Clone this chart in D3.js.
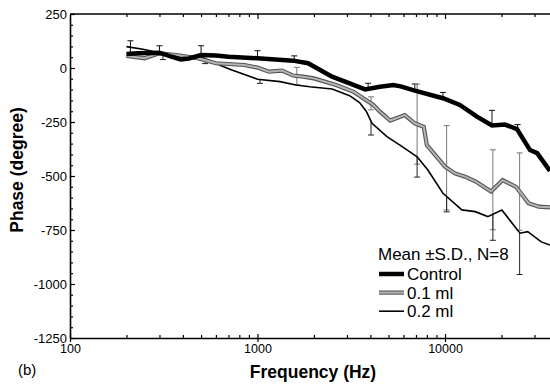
<!DOCTYPE html>
<html>
<head>
<meta charset="utf-8">
<script src="https://cdn.jsdelivr.net/npm/d3@7"></script>
<style>
  body { margin: 0; background: #fff; }
  svg { display: block; }
  text { font-family: "Liberation Sans", Arial, sans-serif; fill: #000; }
</style>
</head>
<body>
<div id="chart"></div>
<script>
// phase data (Hz, degree)
const controlFreq = [200, 230, 300, 350, 390, 430, 500, 600, 700, 1000, 1550, 1860, 2500, 3100, 3750, 4500, 5300, 5800, 6900, 9750, 12000, 14800, 17800, 20900, 24200, 28400, 31000, 36300];
const controlPhase = [65, 68, 71, 52, 40, 44, 60, 58, 52, 45, 34, 22, -40, -71, -99, -87, -79, -85, -105, -140, -171, -225, -266, -262, -283, -380, -394, -476];

const dose1Freq = [200, 250, 300, 370, 480, 600, 850, 1000, 1150, 1350, 1550, 1750, 2000, 2650, 3250, 4150, 4500, 5100, 6100, 6900, 7700, 8000, 10000, 11300, 12800, 14600, 17600, 20300, 23900, 27900, 31600, 36300];
const dose1Phase = [56, 45, 68, 60, 45, 22, 14, 2, -17, -12, -35, -40, -48, -80, -110, -171, -202, -243, -218, -256, -272, -357, -457, -488, -503, -526, -572, -519, -550, -626, -642, -645];

const dose2Freq = [200, 245, 300, 420, 500, 560, 650, 730, 1000, 1320, 1600, 1900, 2500, 3100, 3500, 3800, 4080, 4900, 5750, 7100, 8100, 9750, 12300, 14500, 16900, 20100, 25100, 27600, 32600, 36300];
const dose2Phase = [99, 87, 71, 55, 52, 32, 8, -9, -52, -63, -79, -87, -97, -128, -160, -200, -256, -318, -357, -411, -472, -580, -657, -665, -688, -657, -765, -758, -805, -820];

// S.D. bars: control drawn upward, 0.1 ml both ways, 0.2 ml downward
const controlErrFreq = [210, 300, 500, 1000, 1570, 3890, 6900, 9750, 17800, 24400];
const controlErrSD = [60, 32, 43, 35, 23, 26, 31, 27, 70, 26];
const dose1ErrFreq = [1620, 4030, 7100, 10200, 18000, 25000];
const dose1ErrSD = [40, 30, 185, 195, 185, 179];
const dose2ErrFreq = [313, 525, 1030, 4030, 7100, 10200, 18000, 25000];
const dose2ErrSD = [30, 23, 18, 64, 94, 71, 121, 193];

const yTicks = [250, 0, -250, -500, -750, -1000, -1250];
const xTicks = [100, 1000, 10000];
const legendLabels = ['Control', '0.1 ml', '0.2 ml'];

const width = 550, height = 385;
const svg = d3.select('#chart').append('svg')
  .attr('width', width)
  .attr('height', height);

const x = d3.scaleLog().domain([100, 36300]).range([70, 550]);
const y = d3.scaleLinear().domain([-1250, 250]).range([338, 14]);

const xMinor = [];
[100, 1000, 10000].forEach(dec => {
  for (let k = 2; k <= 9; k++) if (dec * k < 36300) xMinor.push(dec * k);
});
const yMinor = d3.range(-1250, 251, 50).filter(v => v % 250 !== 0);

function clean(g) {
  g.select('.domain').remove();
  g.selectAll('.tick line').attr('stroke', '#000').attr('stroke-width', 1.2);
}

// minor ticks
svg.append('g').attr('transform', 'translate(70,0)')
  .call(d3.axisLeft(y).tickValues(yMinor).tickSize(-3).tickFormat(''))
  .call(clean);
svg.append('g').attr('transform', 'translate(0,338)')
  .call(d3.axisBottom(x).tickValues(xMinor).tickSize(-3).tickFormat(''))
  .call(clean);
svg.append('g').attr('transform', 'translate(0,14)')
  .call(d3.axisTop(x).tickValues(xMinor).tickSize(-3).tickFormat(''))
  .call(clean);
// inward major ticks
svg.append('g').attr('transform', 'translate(0,338)')
  .call(d3.axisBottom(x).tickValues(xTicks).tickSize(-4).tickFormat(''))
  .call(clean);
svg.append('g').attr('transform', 'translate(0,14)')
  .call(d3.axisTop(x).tickValues(xTicks.slice(1)).tickSize(-5).tickFormat(''))
  .call(clean);

// labelled axes
const yAxis = svg.append('g').attr('transform', 'translate(70,0)')
  .call(d3.axisLeft(y).tickValues(yTicks).tickSize(-5).tickSizeOuter(0).tickPadding(3).tickFormat(d => String(d)));
yAxis.selectAll('text').style('font-size', '13px');

const xAxis = svg.append('g').attr('transform', 'translate(0,338)')
  .call(d3.axisBottom(x).tickValues(xTicks).tickSize(4).tickSizeOuter(0).tickPadding(2).tickFormat(d => String(d)));
xAxis.selectAll('text').style('font-size', '12.5px');

svg.append('line')
  .attr('x1', 70).attr('x2', 550).attr('y1', 14).attr('y2', 14)
  .attr('stroke', '#000').attr('stroke-width', 1.6);
[yAxis, xAxis].forEach(g => {
  g.select('.domain').attr('stroke-width', 1.6);
  g.selectAll('.tick line').attr('stroke-width', 1.2);
});

// error bars
const meanAt = (freqs, vals) => d3.scaleLog().domain(freqs).range(vals);
const errGroups = [
  { freq: controlErrFreq, sd: controlErrSD, mean: meanAt(controlFreq, controlPhase), up: 1, down: 0, color: '#111' },
  { freq: dose1ErrFreq, sd: dose1ErrSD, mean: meanAt(dose1Freq, dose1Phase), up: 1, down: 1, color: '#777' },
  { freq: dose2ErrFreq, sd: dose2ErrSD, mean: meanAt(dose2Freq, dose2Phase), up: 0, down: 1, color: '#222' }
];
const errLayer = svg.append('g');
errGroups.forEach(grp => {
  grp.freq.forEach((f, i) => {
    const m = grp.mean(f), s = grp.sd[i];
    const hi = m + s * grp.up, lo = m - s * grp.down;
    const cx = x(f);
    errLayer.append('line')
      .attr('x1', cx).attr('x2', cx).attr('y1', y(hi)).attr('y2', y(lo))
      .attr('stroke', grp.color).attr('stroke-width', 1);
    const caps = [];
    if (grp.up) caps.push(hi);
    if (grp.down) caps.push(lo);
    caps.forEach(v => {
      errLayer.append('line')
        .attr('x1', cx - 3).attr('x2', cx + 3).attr('y1', y(v)).attr('y2', y(v))
        .attr('stroke', grp.color).attr('stroke-width', 1);
    });
  });
});

// curves
const line = d3.line().x(d => x(d[0])).y(d => y(d[1]));
const controlData = d3.zip(controlFreq, controlPhase);
const dose1Data = d3.zip(dose1Freq, dose1Phase);
const dose2Data = d3.zip(dose2Freq, dose2Phase);

svg.append('path').datum(dose2Data)
  .attr('d', line).attr('fill', 'none')
  .attr('stroke', '#000').attr('stroke-width', 1.6);
svg.append('path').datum(dose1Data)
  .attr('d', line).attr('fill', 'none')
  .attr('stroke', '#555').attr('stroke-width', 4.2);
svg.append('path').datum(dose1Data)
  .attr('d', line).attr('fill', 'none')
  .attr('stroke', '#b4b4b4').attr('stroke-width', 2);
svg.append('path').datum(controlData)
  .attr('d', line).attr('fill', 'none')
  .attr('stroke', '#000').attr('stroke-width', 4.5);

// legend
const legend = svg.append('g');
legend.append('text')
  .attr('x', 378).attr('y', 260)
  .style('font-size', '17px')
  .text('Mean \u00b1S.D., N=8');
const legendStyles = [
  [{ stroke: '#000', w: 4.5 }],
  [{ stroke: '#555', w: 4.2 }, { stroke: '#b4b4b4', w: 2 }],
  [{ stroke: '#000', w: 1.6 }]
];
legendLabels.forEach((lab, i) => {
  const ly = 274 + i * 18.6;
  legendStyles[i].forEach(st => {
    legend.append('line')
      .attr('x1', 379).attr('x2', 404).attr('y1', ly).attr('y2', ly)
      .attr('stroke', st.stroke).attr('stroke-width', st.w);
  });
  legend.append('text')
    .attr('x', 407).attr('y', ly + 6)
    .style('font-size', '17px')
    .text(lab);
});

// titles
svg.append('text')
  .attr('x', 313).attr('y', 378)
  .attr('text-anchor', 'middle')
  .style('font-size', '17.5px').style('font-weight', 'bold')
  .text('Frequency (Hz)');
svg.append('text')
  .attr('transform', 'translate(23,170) rotate(-90)')
  .attr('text-anchor', 'middle')
  .style('font-size', '17.5px').style('font-weight', 'bold')
  .text('Phase (degree)');
svg.append('text')
  .attr('x', 18).attr('y', 375)
  .style('font-size', '15px')
  .text('(b)');
</script>
</body>
</html>
